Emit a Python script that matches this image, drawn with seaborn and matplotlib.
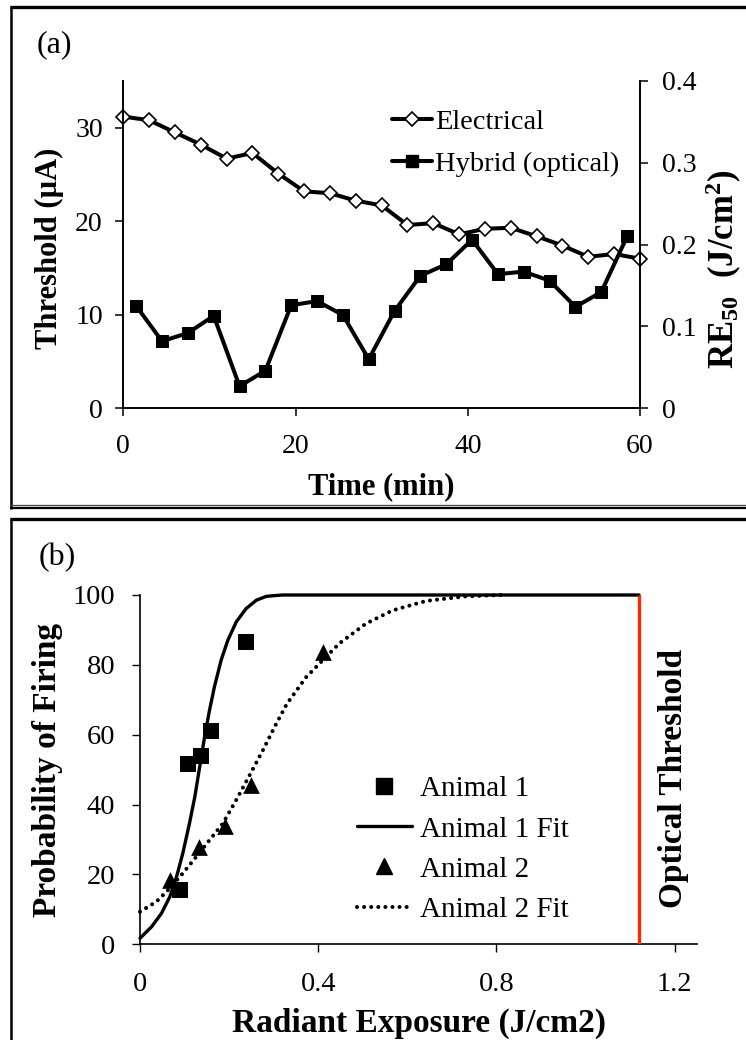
import matplotlib
matplotlib.use("Agg")
import matplotlib.pyplot as plt
import seaborn as sns
from matplotlib.lines import Line2D
from matplotlib.ticker import FixedLocator, FixedFormatter

# ---- panel (a): threshold over time ----
time_electrical = [0, 3, 6, 9, 12, 15, 18, 21, 24, 27, 30,
                   33, 36, 39, 42, 45, 48, 51, 54, 57, 60]
threshold_electrical = [31.2, 30.8, 29.5, 28.2, 26.7, 27.3, 25.1, 23.2, 23.0, 22.2, 21.7,
                        19.6, 19.8, 18.6, 19.2, 19.3, 18.4, 17.4, 16.2, 16.5, 16.0]
time_hybrid = [1.5, 4.5, 7.5, 10.5, 13.5, 16.5, 19.5, 22.5, 25.5, 28.5,
               31.5, 34.5, 37.5, 40.5, 43.5, 46.5, 49.5, 52.5, 55.5, 58.5]
re50_hybrid = [0.125, 0.082, 0.092, 0.113, 0.027, 0.046, 0.126, 0.131, 0.114, 0.060,
               0.119, 0.162, 0.176, 0.206, 0.164, 0.167, 0.156, 0.124, 0.142, 0.210]
time_ticks = [0, 20, 40, 60]
threshold_ticks = [0, 10, 20, 30]
re50_ticks = [0, 0.1, 0.2, 0.3, 0.4]
re50_tick_labels = ["0", "0.1", "0.2", "0.3", "0.4"]

# ---- panel (b): probability of firing vs radiant exposure ----
animal1_x = [0.089, 0.108, 0.138, 0.159, 0.238]
animal1_y = [15.4, 51.5, 54.0, 61.0, 86.4]
animal2_x = [0.067, 0.133, 0.190, 0.248, 0.410]
animal2_y = [18.5, 27.7, 33.8, 45.7, 83.7]
fit1_x = [0.0, 0.026, 0.048, 0.067, 0.082, 0.096, 0.111, 0.123, 0.134, 0.145,
          0.156, 0.167, 0.182, 0.197, 0.216, 0.238, 0.261, 0.283, 0.30, 0.32,
          0.40, 0.60, 0.80, 1.00, 1.12]
fit1_y = [1.7, 5.0, 8.8, 13.6, 19.3, 26.0, 34.6, 42.2, 50.8, 59.4,
          67.0, 73.7, 81.3, 87.0, 92.3, 96.1, 98.5, 99.6, 99.8, 100.0,
          100.0, 100.0, 100.0, 100.0, 100.0]
fit2_x = [0.0, 0.037, 0.067, 0.096, 0.126, 0.156, 0.186, 0.216, 0.246, 0.276,
          0.306, 0.330, 0.373, 0.410, 0.447, 0.507, 0.567, 0.642, 0.731, 0.810]
fit2_y = [9.3, 12.2, 16.0, 20.3, 25.0, 29.8, 34.6, 41.3, 48.4, 55.6,
          63.2, 68.9, 76.5, 81.3, 86.1, 91.8, 95.6, 98.3, 99.6, 100.0]
optical_threshold = 1.12
exposure_ticks = [0, 0.4, 0.8, 1.2]
exposure_tick_labels = ["0", "0.4", "0.8", "1.2"]
probability_ticks = [0, 20, 40, 60, 80, 100]

sns.set_theme(style="ticks", rc={
    "axes.edgecolor": "black", "xtick.color": "black", "ytick.color": "black",
    "text.color": "black", "axes.labelcolor": "black",
})
plt.rcParams["font.family"] = ["Liberation Serif", "DejaVu Serif"]
plt.rcParams["mathtext.default"] = "regular"

W, H = 746, 1040
fig = plt.figure(figsize=(W / 100, H / 100), dpi=100)
fig.patch.set_facecolor("white")

# ------------------------------------------------------------------ (a)
ax_a = fig.add_axes([123.3 / W, 1 - 408.3 / H, (640 - 123.3) / W, (408.3 - 81) / H])
ax_r = ax_a.twinx()

sns.lineplot(x=time_electrical, y=threshold_electrical, ax=ax_a, color="black",
             linewidth=2.9, marker="D", markersize=7, markerfacecolor="white",
             markeredgecolor="black", markeredgewidth=1.2, clip_on=False)
sns.lineplot(x=time_hybrid, y=re50_hybrid, ax=ax_r, color="black",
             linewidth=2.9, marker="s", markersize=8.8, markerfacecolor="black",
             markeredgecolor="black", clip_on=False)

ax_a.set_xlim(0, 60)
ax_a.set_ylim(0, 35)
ax_r.set_ylim(0, 0.4)
ax_a.xaxis.set_major_locator(FixedLocator(time_ticks))
ax_a.yaxis.set_major_locator(FixedLocator(threshold_ticks))
ax_r.yaxis.set_major_locator(FixedLocator(re50_ticks))
ax_r.yaxis.set_major_formatter(FixedFormatter(re50_tick_labels))

for ax in (ax_a, ax_r):
    ax.set_facecolor("none")
    ax.spines["top"].set_visible(False)
    for s in ax.spines.values():
        s.set_linewidth(1.4)
        s.set_color("black")
ax_a.spines["right"].set_visible(False)
ax_r.spines["left"].set_visible(False)
ax_r.spines["bottom"].set_visible(False)

ax_a.tick_params(axis="x", direction="out", length=5.8, width=1.1, labelsize=20, pad=13)
ax_a.tick_params(axis="y", direction="out", length=5.8, width=1.1, labelsize=20, pad=9)
ax_r.tick_params(axis="y", direction="out", length=5.8, width=1.1, labelsize=20, pad=10)

ax_a.set_xlabel("Time (min)", fontsize=22, fontweight="bold", va="center")
ax_a.xaxis.set_label_coords(0.5, -0.2405)
ax_a.set_ylabel("Threshold (µA)", fontsize=22, fontweight="bold", va="center")
ax_a.yaxis.set_label_coords(-0.142, 0.49)
ax_r.set_ylabel(r"RE$_{50}$  (J/cm$^{2}$)", fontsize=25, fontweight="bold",
                va="center", rotation=90)
ax_r.yaxis.set_label_coords((724 - 123.3) / (640 - 123.3), 0.426)

legend_a = [
    Line2D([], [], color="black", linewidth=2.9, marker="D", markersize=7,
           markerfacecolor="white", markeredgecolor="black", markeredgewidth=1.2),
    Line2D([], [], color="black", linewidth=2.9, marker="s", markersize=8.8,
           markerfacecolor="black", markeredgecolor="black"),
]
ax_r.legend(legend_a, ["Electrical", "Hybrid (optical)"], loc="upper left",
            bbox_to_anchor=(391.7 / W, 1 - 109 / H), bbox_transform=fig.transFigure,
            frameon=False, fontsize=20.5, handlelength=1.42, handletextpad=0.1,
            labelspacing=0.56, borderpad=0, borderaxespad=0)

fig.text(54.5 / W, 1 - 45 / H, "(a)", fontsize=23, ha="center", va="center")

# ------------------------------------------------------------------ (b)
ax_b = fig.add_axes([140 / W, 1 - 944.2 / H, (697 - 140) / W, (944.2 - 595) / H])
ax_b.set_facecolor("none")

sns.lineplot(x=fit1_x, y=fit1_y, ax=ax_b, color="black", linewidth=2.4, clip_on=False)
sns.lineplot(x=fit2_x, y=fit2_y, ax=ax_b, color="black", linewidth=2.9,
             linestyle=(0, (0.01, 1.75)), dash_capstyle="round", clip_on=False)
sns.scatterplot(x=animal1_x, y=animal1_y, ax=ax_b, marker="s", s=140,
                color="black", edgecolor="black", linewidth=0, zorder=4)
sns.scatterplot(x=animal2_x, y=animal2_y, ax=ax_b, marker="^", s=145,
                color="black", edgecolor="black", linewidth=0, zorder=4)
ax_b.vlines(optical_threshold, 0, 100, color="#ff2a00", linewidth=2.4, zorder=5)

ax_b.set_xlim(0, 1.25)
ax_b.set_ylim(0, 100)
ax_b.xaxis.set_major_locator(FixedLocator(exposure_ticks))
ax_b.xaxis.set_major_formatter(FixedFormatter(exposure_tick_labels))
ax_b.yaxis.set_major_locator(FixedLocator(probability_ticks))
for side in ("top", "right"):
    ax_b.spines[side].set_visible(False)
for side in ("left", "bottom"):
    ax_b.spines[side].set_linewidth(1.2)
    ax_b.spines[side].set_color("black")
ax_b.tick_params(axis="x", direction="out", length=5.8, width=1.0, labelsize=20.5, pad=14)
ax_b.tick_params(axis="y", direction="out", length=5.8, width=1.0, labelsize=20.5, pad=12)

ax_b.set_xlabel("Radiant Exposure (J/cm2)", fontsize=24, fontweight="bold", va="center")
ax_b.xaxis.set_label_coords(0.5, -0.228)
ax_b.set_ylabel("Probability of Firing", fontsize=24, fontweight="bold", va="center")
ax_b.yaxis.set_label_coords(-0.166, 0.5)
ax_b.text(0.957, 0.476, "Optical Threshold", transform=ax_b.transAxes, rotation=90,
          ha="center", va="center", fontsize=24, fontweight="bold")

legend_b = [
    Line2D([], [], color="black", linestyle="None", marker="s", markersize=11.8),
    Line2D([], [], color="black", linewidth=2.4),
    Line2D([], [], color="black", linestyle="None", marker="^", markersize=12.2),
    Line2D([], [], color="black", linewidth=2.9, linestyle=(0, (0.01, 1.75)),
           dash_capstyle="round"),
]
ax_b.legend(legend_b, ["Animal 1", "Animal 1 Fit", "Animal 2", "Animal 2 Fit"],
            loc="upper left", bbox_to_anchor=(356.8 / W, 1 - 776 / H),
            bbox_transform=fig.transFigure, frameon=False, fontsize=21,
            handlelength=1.88, handletextpad=0.28, labelspacing=0.47,
            borderpad=0, borderaxespad=0)

fig.text(57 / W, 1 - 557.5 / H, "(b)", fontsize=23, ha="center", va="center")

# ------------------------------------------------------------------ frames
def hline(y, x0, x1, lw, color="black"):
    fig.add_artist(Line2D([x0 / W, x1 / W], [1 - y / H, 1 - y / H],
                          transform=fig.transFigure, color=color, linewidth=lw,
                          solid_capstyle="butt"))

def vline(x, y0, y1, lw, color="black"):
    fig.add_artist(Line2D([x / W, x / W], [1 - y0 / H, 1 - y1 / H],
                          transform=fig.transFigure, color=color, linewidth=lw,
                          solid_capstyle="butt"))

hline(6.6, 10, W + 2, 2.4)
vline(11.2, 5.5, 509.5, 1.8)
hline(505.3, 10, W + 2, 0.9, color="#444444")
hline(508.3, 10, W + 2, 1.6)
hline(519.4, 10, W + 2, 2.4)
vline(11.2, 518.2, H + 2, 1.8)

fig.savefig("out.png", dpi=100, facecolor="white")
